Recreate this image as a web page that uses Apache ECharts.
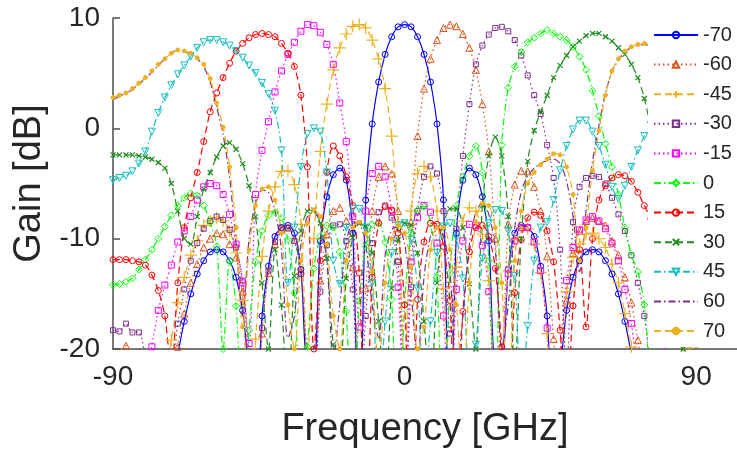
<!DOCTYPE html>
<html>
<head>
<meta charset="utf-8">
<script src="https://cdn.jsdelivr.net/npm/echarts@6/dist/echarts.min.js"></script>
<style>
html, body { margin: 0; padding: 0; background: #fff; }
#chart { width: 737px; height: 456px; }
</style>
</head>
<body>
<div id="chart"></div>
<script>
// angle samples (deg), 2 deg step
const angles = [
  -90, -88, -86, -84, -82, -80, -78, -76, -74, -72,
  -70, -68, -66, -64, -62, -60, -58, -56, -54, -52,
  -50, -48, -46, -44, -42, -40, -38, -36, -34, -32,
  -30, -28, -26, -24, -22, -20, -18, -16, -14, -12,
  -10, -8, -6, -4, -2, 0, 2, 4, 6, 8,
  10, 12, 14, 16, 18, 20, 22, 24, 26, 28,
  30, 32, 34, 36, 38, 40, 42, 44, 46, 48,
  50, 52, 54, 56, 58, 60, 62, 64, 66, 68,
  70, 72, 74, 76, 78, 80, 82, 84, 86, 88,
  90
];

// gain [dB], one list per legend entry
const gainM70 = [
  -26, -26, -25, -24, -24, -25, -28, -33, -28, -24,
  -20.5, -17.5, -15, -13.2, -12, -11.2, -11, -11.2, -12, -13.5,
  -16.5, -22, -28, -17, -12.5, -9.8, -9, -8.8, -9.5, -12.8,
  -21, -21, -10.2, -6.2, -4.2, -3.6, -4.7, -9.5, -30, -6.5,
  0.4, 4.2, 6.7, 8.3, 9.2, 9.4, 9.2, 8.3, 6.7, 4.2,
  0.4, -6.5, -30, -9.5, -4.7, -3.6, -4.2, -6.2, -10.2, -21,
  -21, -12.8, -9.5, -8.8, -9, -9.8, -12.5, -17, -28, -22,
  -16.5, -13.5, -12, -11.2, -11, -11.2, -12, -13.2, -15, -17.5,
  -20.5, -24, -28, -33, -28, -25, -24, -24, -25, -26,
  -26
];
const gainM60 = [
  -20.5, -20.6, -19.7, -20.4, -20.8, -22.8, -25.2, -30, -30, -23.7,
  -19.8, -16.8, -14, -12.3, -10.8, -10, -9.5, -9.6, -10.5, -11.7,
  -14.8, -21.3, -30, -18.6, -13.1, -10.5, -9.1, -9, -10.1, -12.9,
  -20.8, -23.8, -13.8, -9.6, -7.5, -7.2, -8.4, -12.6, -23.6, -14.5,
  -7.5, -4.4, -3.45, -4.1, -7.5, -22, -8.5, -0.7, 3.6, 6.3,
  8, 9.1, 9.4, 9.25, 8.55, 7.3, 5.3, 2.2, -2.1, -10,
  -20.8, -8.7, -5.1, -3.85, -3.9, -5.3, -7.5, -11.6, -19.1, -26.3,
  -15.6, -11.3, -9.3, -8.4, -8.1, -8.4, -8.8, -10.2, -11.5, -13.5,
  -15.8, -19.2, -22.7, -26.2, -30, -27.8, -24.8, -24.7, -24.7, -24.7,
  -24.7
];
const gainM45 = [
  -24.7, -24.7, -24.7, -24.7, -24.8, -27.8, -30, -26.2, -22.7, -19.2,
  -15.8, -13.5, -11.5, -10.2, -8.8, -8.4, -8.1, -8.4, -9.3, -11.3,
  -15.6, -26.3, -19.1, -11.6, -7.5, -5.3, -3.9, -3.85, -5.1, -8.7,
  -20.8, -10, -2.1, 2.2, 5.3, 7.3, 8.55, 9.25, 9.4, 9.1,
  8, 6.3, 3.6, -0.7, -8.5, -22, -7.5, -4.1, -3.45, -4.4,
  -7.5, -14.5, -23.6, -12.6, -8.4, -7.2, -7.5, -9.6, -13.8, -23.8,
  -20.8, -12.9, -10.1, -9, -9.1, -10.5, -13.1, -18.6, -30, -21.3,
  -14.8, -11.7, -10.5, -9.6, -9.5, -10, -10.8, -12.3, -14, -16.8,
  -19.8, -23.7, -30, -30, -25.2, -22.8, -20.8, -20.4, -19.7, -20.6,
  -20.5
];
const gainM30 = [
  -18.3, -18.4, -17.7, -18.5, -18.5, -20.8, -23.2, -29, -28.7, -22.7,
  -17.7, -14.6, -12, -10.4, -9.1, -8.4, -8, -8.3, -9.2, -10.8,
  -13.8, -20.3, -29.1, -18.1, -12.9, -10.3, -9, -9, -10.2, -13.2,
  -20.8, -23.8, -14.8, -10.6, -8.8, -8.7, -10.2, -14.6, -26.6, -17,
  -10.4, -7.6, -7, -8.1, -12.1, -25.5, -14.4, -7.5, -4.4, -3.45,
  -4.1, -7.5, -18.6, -9.1, -2.5, 2.2, 5.8, 7.5, 8.5, 9.1,
  9.2, 8.8, 8, 6.6, 4.8, 3, 1.3, -1.5, -4.5, -11,
  -22, -8.5, -5.3, -4.5, -4.3, -4.4, -5, -6.3, -7.8, -9.3,
  -11.5, -14, -17, -22, -30, -27.8, -24.8, -24.2, -24.2, -24,
  -24
];
const gainM15 = [
  -24, -24, -24.2, -24.2, -24.8, -24, -19.8, -16.5, -14.2, -12.4,
  -10.3, -9.3, -8, -6.5, -5.3, -5, -5.2, -6, -7.8, -10.5,
  -14, -19.5, -6, -2, 0.6, 3.3, 5.2, 6.7, 7.8, 8.8,
  9.4, 9.3, 8.7, 7.6, 5.8, 2.3, -1.2, -8, -18, -7.5,
  -4.1, -3.45, -4.4, -7.5, -14.4, -25.5, -12.1, -8.1, -7, -7.6,
  -10.4, -17, -26.6, -14.6, -10.2, -8.7, -8.8, -10.6, -14.8, -23.8,
  -20.8, -13.2, -10.2, -9, -9, -10.3, -12.9, -18.1, -29.1, -20.3,
  -13.8, -10.8, -9.2, -8.3, -8, -8.4, -9.1, -10.4, -12, -14.6,
  -17.7, -22.7, -28.7, -29, -23.2, -20.8, -18.5, -18.5, -17.7, -18.4,
  -18.3
];
const gain0 = [
  -14.2, -14.1, -13.9, -13.6, -12.8, -11.9, -11, -10, -8.9, -7.9,
  -7, -6.3, -5.9, -6.1, -7, -8.5, -10.7, -20, -12, -16.1,
  -26, -18.3, -12.1, -9.3, -7.9, -7.6, -8.1, -10.1, -14.9, -25.9,
  -19.8, -12.7, -9.8, -8.8, -9, -11.2, -16.6, -30, -15.6, -10.7,
  -8.7, -8.6, -10.3, -15.5, -30, -16, -9.5, -7.4, -7.1, -8.6,
  -13.5, -30, -13.1, -7, -4.4, -2.5, -1.6, -4, -12, -25,
  -1.5, 3.7, 5.6, 6.9, 7.8, 8.2, 8.6, 8.9, 8.6, 8.3,
  8, 7.4, 6.5, 5.3, 3.4, 1.1, -1.4, -3.5, -6, -9,
  -11.5, -13, -16, -22, -18, -14, -12, -11.5, -11.5, -12,
  -12.5
];
const gain15 = [
  -11.9, -11.9, -11.9, -12, -12.1, -12.4, -13.3, -14.7, -17, -22,
  -14, -9, -6.3, -4, -1.2, 1.5, 3.2, 4.6, 5.9, 7,
  7.7, 8.2, 8.5, 8.6, 8.5, 8.3, 7.7, 6.8, 5.6, 3,
  -3.5, -20, -12, -4, -1.6, -2.5, -4.4, -7, -13.1, -30,
  -13.5, -8.6, -7.1, -7.4, -9.5, -16, -30, -15.5, -10.3, -8.6,
  -8.7, -10.7, -15.6, -30, -16.6, -11.2, -9, -8.8, -9.8, -12.7,
  -19.8, -25.9, -14.9, -10.1, -8.1, -7.6, -7.9, -9.3, -12.1, -18.3,
  -26, -16.1, -11, -18, -10, -6.5, -5.2, -4.5, -4.2, -4.3,
  -4.8, -5.8, -7, -8.2, -9.5, -10.5, -11.3, -12, -12.5, -13,
  -13.5
];
const gain30 = [
  -2.4, -2.4, -2.4, -2.4, -2.5, -2.6, -2.8, -3.1, -3.6, -5,
  -7.5, -10, -10.5, -8, -5.5, -4, -2.6, -1.6, -1.3, -1.9,
  -3.2, -5.2, -8, -14, -20, -11, -16, -24, -13.4, -9.3,
  -7.5, -7.4, -8.6, -11.8, -19.6, -21.6, -13.6, -9.9, -8.6, -8.9,
  -11.3, -17.5, -24.5, -14.5, -10.1, -8.6, -8.8, -11.3, -17.5, -24.5,
  -14, -9, -7.3, -7.3, -9, -14.1, -20, -7, -2.5, -0.8,
  -2.5, -8, -22, -10, -3, -0.2, 1.5, 3, 4.6, 5.7,
  6.6, 7.4, 7.9, 8.4, 8.6, 8.6, 8.3, 7.9, 7.3, 6.7,
  5.8, 4.6, 2.7, 0, -3, -7, -12, -16, -20, -25,
  -28
];
const gain45 = [
  -4.7, -4.5, -4.3, -3.9, -3.2, -2.1, -0.3, 1.4, 2.8, 3.9,
  4.9, 5.7, 6.5, 7.3, 7.8, 8, 8, 7.8, 7.5, 7,
  6.4, 5.7, 5, 4.1, 3.1, 1.6, -2, -14, -9, -3.5,
  -0.5, 0, -0.3, -4, -12, -14.1, -9, -7.3, -7.3, -9,
  -14, -24.5, -17.5, -11.3, -8.8, -8.6, -10.1, -14.5, -24.5, -17.5,
  -11.3, -8.9, -8.6, -9.9, -13.6, -21.6, -19.6, -11.8, -8.6, -7.4,
  -7.5, -9.3, -13.4, -24, -17.9, -12, -9, -8.5, -6.5, -3.8,
  -1.6, -0.1, 0.7, 0.7, -0.3, -1.6, -3.3, -5.3, -6.4, -5.2,
  -3.5, -2, -0.7, 0.3, 0.8, 0.8, 0.5, 0, -0.6, -1.2,
  -1.8
];
const gain60 = [
  2.6, 2.9, 3.2, 3.5, 4, 4.5, 5.1, 5.7, 6.3, 6.8,
  7.1, 7, 6.7, 6.3, 5.6, 4.2, 1.9, -0.6, -4.5, -10.5,
  -17, -10, -6.8, -5.6, -5.8, -7.5, -11, -19, -17, -10.5,
  -8, -7.6, -8.8, -12, -21, -16, -10.5, -8.6, -8.7, -10.5,
  -16, -19, -11.5, -9.2, -8.9, -10.5, -15, -21, -13.5, -9.8,
  -8.8, -9.8, -13, -22, -17, -10.5, -7.6, -6.8, -7.8, -11,
  -20, -16, -9, -5.8, -4.3, -3.6, -3.2, -2.9, -2.8, -3.2,
  -4.8, -8, -13, -7.5, -3, 0.3, 3.2, 5.1, 6.2, 6.9,
  7.3, 7.5, 7.6, 7.3, 6.2, 4, -1, -12, -22, -25,
  -25
];
const gain70 = [
  2.8, 3, 3.2, 3.6, 4.1, 4.6, 5.2, 5.8, 6.3, 6.8,
  7.1, 7, 6.8, 6.4, 5.8, 4.5, 2.3, 0.1, -3.5, -9,
  -18, -11, -7, -5.5, -5.3, -6.5, -9.5, -16, -20, -12,
  -8.6, -7.4, -8, -10.5, -17, -20, -12, -9, -8.5, -9.5,
  -13, -22, -14, -10, -8.8, -9.5, -12.5, -20, -18, -11,
  -9, -9, -11, -16, -24, -14, -8.5, -6.8, -7, -9,
  -14, -26, -12, -7.5, -5, -4, -3.3, -2.8, -2.3, -2.4,
  -3.5, -6, -12, -9, -3.8, -0.2, 3, 5.2, 6.3, 7,
  7.4, 7.6, 7.7, 7.5, 6.5, 4.5, 0, -10, -19.6, -19.8,
  -19.7
];

const xTicks = [-90, 0, 90];
const yTicks = [-20, -10, 0, 10];

const FONT = '"Liberation Sans", Arial, Helvetica, sans-serif';
const INK = '#262626';
const AXIS = '#4d4d4d';

// line dash patterns
const DOT = [1.5, 3];
const DASH = [7, 4];
const DASHDOT = [7, 3, 1.5, 3];

const PLUS = 'path://M5 0L5 10M0 5L10 5';
const CROSS = 'path://M0 0L10 10M10 0L0 10';

function zip(values) {
  return angles.map((a, i) => [a, values[i]]);
}

function makeSeries(name, values, color, dash, symbol, size, opts) {
  opts = opts || {};
  const fill = opts.filled ? color : 'rgba(255,255,255,0)';
  const s = {
    name: name,
    type: 'line',
    data: zip(values),
    smooth: 0.3,
    clip: true,
    symbol: symbol,
    symbolSize: size,
    showSymbol: !opts.hidden,
    lineStyle: { color: color, width: 1.2, type: dash },
    itemStyle: {
      color: fill,
      borderColor: opts.hidden ? 'rgba(255,255,255,0)' : color,
      borderWidth: opts.stroke || 1
    },
    emphasis: { disabled: true }
  };
  if (opts.rotate) s.symbolRotate = opts.rotate;
  return s;
}

const series = [
  makeSeries('-70', gainM70, '#0000ff', 'solid', 'circle', 6),
  makeSeries('-60', gainM60, '#d95319', DOT, 'triangle', 7),
  makeSeries('-45', gainM45, '#edb120', DASH, PLUS, 12, { stroke: 1.2 }),
  makeSeries('-30', gainM30, '#7e2f8e', DOT, 'rect', 5),
  makeSeries('-15', gainM15, '#ff00ff', DOT, 'rect', 6),
  makeSeries('0', gain0, '#00ff00', DASHDOT, 'diamond', 7),
  makeSeries('15', gain15, '#ff0000', DASH, 'circle', 6),
  makeSeries('30', gain30, '#1e8c1e', DASH, CROSS, 5, { stroke: 1.2 }),
  makeSeries('45', gain45, '#17bfbf', DASHDOT, 'triangle', 7, { rotate: 180 }),
  makeSeries('60', gain60, '#7e2f8e', DASHDOT, 'circle', 2, { hidden: true }),
  makeSeries('70', gain70, '#edb120', DASH, 'circle', 4, { filled: true })
];

const chart = echarts.init(document.getElementById('chart'), null, { renderer: 'canvas' });

chart.setOption({
  animation: false,
  backgroundColor: '#fff',
  textStyle: { fontFamily: FONT },
  grid: { left: 113, right: 0, top: 18, bottom: 107, containLabel: false },
  xAxis: {
    type: 'value',
    min: -90,
    max: 102.6,
    interval: 90,
    name: 'Frequency [GHz]',
    nameLocation: 'middle',
    nameGap: 62,
    nameTextStyle: { fontSize: 38, color: INK, fontFamily: FONT },
    axisLine: { show: true, onZero: false, lineStyle: { color: AXIS, width: 1.5 } },
    axisTick: { show: false },
    splitLine: { show: false },
    axisLabel: {
      fontSize: 28, color: INK, fontFamily: FONT, margin: 14,
      customValues: xTicks
    }
  },
  yAxis: {
    type: 'value',
    min: -20,
    max: 10,
    interval: 10,
    name: 'Gain [dB]',
    nameLocation: 'middle',
    nameRotate: 90,
    nameGap: 62,
    nameTextStyle: { fontSize: 38, color: INK, fontFamily: FONT },
    axisLine: { show: true, onZero: false, lineStyle: { color: AXIS, width: 1.5 } },
    axisTick: { show: true, inside: true, length: 7, lineStyle: { color: AXIS, width: 1.5 }, customValues: yTicks },
    splitLine: { show: false },
    axisLabel: { fontSize: 28, color: INK, fontFamily: FONT, margin: 13, customValues: yTicks }
  },
  legend: {
    orient: 'vertical',
    left: 648,
    top: 21,
    backgroundColor: '#fff',
    padding: [4, 8, 6, 5],
    itemWidth: 44,
    itemHeight: 8,
    itemGap: 9.6,
    selectedMode: false,
    textStyle: { fontSize: 20, color: INK, fontFamily: FONT },
    data: series.map(s => s.name)
  },
  series: series
});
</script>
</body>
</html>
